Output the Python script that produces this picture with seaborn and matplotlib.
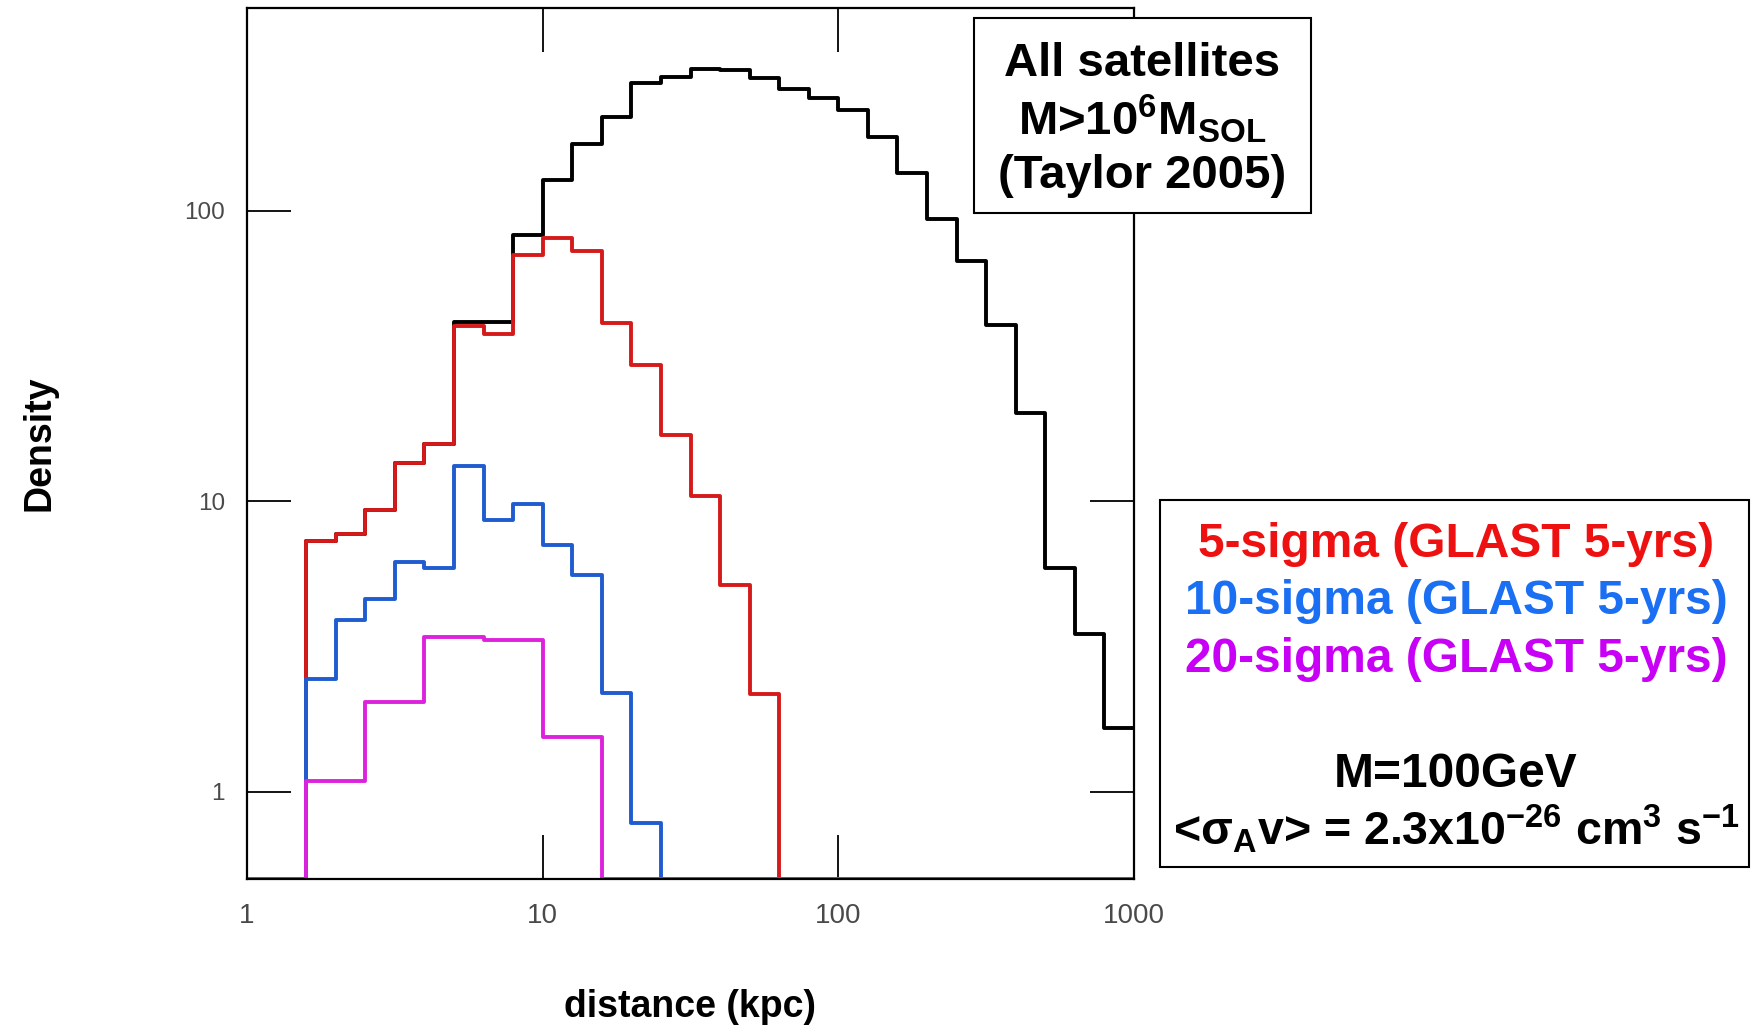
import numpy as np
import pandas as pd
import matplotlib.pyplot as plt
from matplotlib.patches import Rectangle
from matplotlib.ticker import NullLocator
import seaborn as sns

sns.set_style("ticks")
plt.rcParams['font.family'] = ['Liberation Sans', 'DejaVu Sans']
plt.rcParams['text.color'] = 'black'
plt.rcParams['axes.labelcolor'] = 'black'
plt.rcParams['mathtext.fontset'] = 'custom'
plt.rcParams['mathtext.rm'] = 'Liberation Sans:bold'
plt.rcParams['mathtext.it'] = 'Liberation Sans:bold'
plt.rcParams['mathtext.bf'] = 'Liberation Sans:bold'

# histogram binning: 0.1 dex from 1 to 1000 kpc
bin_edges = 10 ** np.linspace(0, 3, 31)

# counts per bin (0 = empty bin)
all_sats = [0, 0, 7.3, 7.7, 9.3, 13.5, 15.7, 41.5, 41.5, 82.5, 128, 170, 211, 275, 289,
            309, 305, 288, 264, 245, 222, 180, 135, 94, 67, 40.4, 20.2, 5.9, 3.5, 1.65]
sigma5 = [0, 0, 7.3, 7.7, 9.3, 13.5, 15.7, 40, 37.8, 70.3, 80.4, 72.8, 41, 29.4, 16.9,
          10.4, 5.14, 2.17, 0, 0, 0, 0, 0, 0, 0, 0, 0, 0, 0, 0]
sigma10 = [0, 0, 2.45, 3.9, 4.59, 6.18, 5.87, 13.2, 8.6, 9.8, 7.06, 5.57, 2.19, 0.777, 0,
           0, 0, 0, 0, 0, 0, 0, 0, 0, 0, 0, 0, 0, 0, 0]
sigma20 = [0, 0, 1.09, 1.09, 2.04, 2.04, 3.41, 3.41, 3.32, 3.32, 1.54, 1.54, 0, 0, 0,
           0, 0, 0, 0, 0, 0, 0, 0, 0, 0, 0, 0, 0, 0, 0]

series_names = ['all', '5sigma', '10sigma', '20sigma']
line_colors = ['black', '#d41a1a', '#1f5ccf', '#dd22dd']

y_floor = 0.5
frames = []
for name, vals in zip(series_names, [all_sats, sigma5, sigma10, sigma20]):
    h = np.maximum(np.append(vals, vals[-1]), y_floor)  # empty bins sit on the axis floor
    frames.append(pd.DataFrame({'distance': bin_edges, 'density': h, 'sample': name}))
df = pd.concat(frames, ignore_index=True)

W, H = 1752, 1027
fig = plt.figure(figsize=(W / 100, H / 100), dpi=100)
ax = fig.add_axes([247 / W, 1 - 879 / H, 887 / W, 871 / H])
ax.set_xscale('log')
ax.set_yscale('log')

sns.lineplot(data=df, x='distance', y='density', hue='sample', hue_order=series_names,
             palette=line_colors, drawstyle='steps-post', estimator=None, sort=False,
             linewidth=2.8, legend=False, ax=ax)

ax.set_xlim(1, 1000)
ax.set_ylim(0.5, 500)
ax.set_xticks([1, 10, 100, 1000])
ax.set_xticklabels(['1', '10', '100', '1000'])
ax.set_yticks([1, 10, 100])
ax.set_yticklabels(['1', '10', '100'])
ax.xaxis.set_minor_locator(NullLocator())
ax.yaxis.set_minor_locator(NullLocator())
ax.tick_params(which='major', direction='in', length=32, width=1.3, color='black',
               top=True, right=True)
ax.tick_params(axis='x', pad=17, labelsize=20, labelcolor='#4a4a4a')
ax.tick_params(axis='y', pad=16, labelsize=17.5, labelcolor='#4a4a4a')
for s in ax.spines.values():
    s.set_linewidth(1.6)
    s.set_color('black')

ax.set_xlabel('distance (kpc)', fontsize=27, fontweight='bold', color='black')
ax.set_ylabel('Density', fontsize=27, fontweight='bold', color='black')
ax.xaxis.set_label_coords(0.5, -0.126)
ax.yaxis.set_label_coords(-0.214, 0.5)

# annotation boxes
fig.add_artist(Rectangle((974 / W, 1 - 213 / H), 337 / W, 195 / H, transform=fig.transFigure,
                         facecolor='white', edgecolor='black', linewidth=1.5, zorder=5))
fig.add_artist(Rectangle((1160 / W, 1 - 867 / H), 589 / W, 367 / H, transform=fig.transFigure,
                         facecolor='white', edgecolor='black', linewidth=1.5, zorder=5))

box1_lines = ['All satellites', r'M>10$^{6}$M$_{\mathrm{SOL}}$', '(Taylor 2005)']
for txt, yb in zip(box1_lines, [76, 135, 188]):
    fig.text(1142 / W, 1 - yb / H, txt, ha='center', va='baseline', fontsize=34,
             fontweight='bold', color='black', zorder=6)

box2_lines = ['5-sigma (GLAST 5-yrs)', '10-sigma (GLAST 5-yrs)', '20-sigma (GLAST 5-yrs)',
              'M=100GeV', r'<σ$_{A}$v> = 2.3x10$^{-26}$ cm$^{3}$ s$^{-1}$']
box2_colors = ['#ee1111', '#1b6ff2', '#c800f5', 'black', 'black']
box2_sizes = [34.5, 34.5, 34.5, 34.5, 33.5]
for txt, c, fs, yb in zip(box2_lines, box2_colors, box2_sizes, [557, 614, 672, 787, 845]):
    fig.text(1456 / W, 1 - yb / H, txt, ha='center', va='baseline', fontsize=fs,
             fontweight='bold', color=c, zorder=6)

fig.savefig('out.png', dpi=100)
